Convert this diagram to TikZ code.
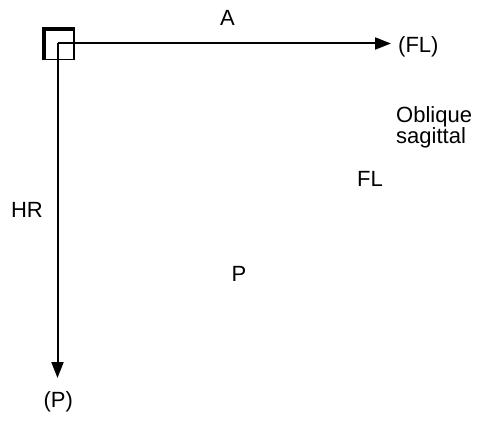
\documentclass[tikz,border=0pt]{standalone}
\usepackage{fontspec}
\setmainfont{Liberation Sans}
\usetikzlibrary{arrows.meta, positioning}

\begin{document}
\begin{tikzpicture}[
    x=1pt, y=-1pt,
    font=\fontsize{22}{20}\selectfont,
    axis/.style={
        draw, line width=2pt, -{Triangle[length=16pt, width=12pt]}
    },
    label/.style={
        inner sep=0pt, anchor=base
    },
    corner/.style={
        rectangle, draw, line width=1.5pt, minimum size=31pt, inner sep=0pt
    }
]
    \useasboundingbox (0,0) rectangle (487,422);

    % --- nodes ---
    \node [corner] (box) at (58.5,44) {};
    \draw [line width=4pt] ([xshift=1.5pt]box.south west) -- ([xshift=1.5pt,yshift=-1.5pt]box.north west) -- ([yshift=-1.5pt]box.north east);
    \coordinate (origin) at (57.5,43.5);
    \coordinate (fltip) at (391,43.5);
    \coordinate (ptip) at (57.5,378);

    \node [label] (a) at (227.5,26) {A};
    \node [label, anchor=base west] (fl) at (398,53) {(FL)};
    \node [label, anchor=base west, align=left] (oblique) at (396,144) {Oblique\\sagittal};
    \node [label] (flmid) at (370,186) {FL};
    \node [label] (hr) at (27,218) {HR};
    \node [label] (p) at (239,281.7) {P};
    \node [label] (pend) at (58.3,407.7) {(P)};

    % --- axes ---
    \path [axis] (origin) -- (fltip);
    \path [axis] (origin) -- (ptip);

\end{tikzpicture}
\end{document}
